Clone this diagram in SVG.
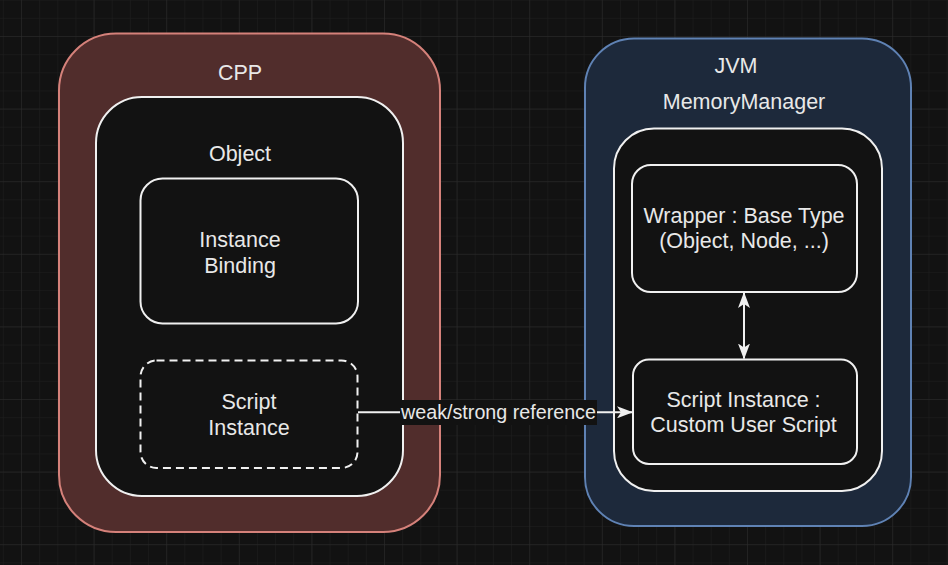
<svg xmlns="http://www.w3.org/2000/svg" width="948" height="565" viewBox="0 0 948 565">
<defs>
<pattern id="minor" x="21" y="36" width="18.15" height="18.15" patternUnits="userSpaceOnUse">
<path d="M0 0 H18.15 M0 0 V18.15" fill="none" stroke="#1f1f1f" stroke-width="1"/>
</pattern>
<pattern id="major" x="21" y="36" width="72.6" height="72.6" patternUnits="userSpaceOnUse">
<path d="M0 0 H72.6 M0 0 V72.6" fill="none" stroke="#2c2c2c" stroke-width="1"/>
</pattern>
<marker id="arr" viewBox="0 0 16 12" refX="15" refY="6" markerWidth="16" markerHeight="12" markerUnits="userSpaceOnUse" orient="auto-start-reverse">
<path d="M0 0 L16 6 L0 12 L4 6 Z" fill="#f0f0f0"/>
</marker>
</defs>
<style>
text{font-family:"Liberation Sans",Arial,sans-serif;font-size:21.5px;fill:#e8e8e8;text-anchor:middle}
.box{fill:#121212;stroke:#f0f0f0;stroke-width:2}
.dash{stroke-dasharray:8 5}
.edge{fill:none;stroke:#f0f0f0;stroke-width:2}
.lbl{font-size:19.7px}
</style>
<rect width="948" height="565" fill="#121212"/>
<rect width="948" height="565" fill="url(#minor)"/>
<rect width="948" height="565" fill="url(#major)"/>

<g id="cpp">
<rect x="59" y="33.5" width="381" height="498.5" rx="57" ry="57" fill="#512d2c" stroke="#d5817a" stroke-width="2"/>
<text x="240" y="79.5">CPP</text>
</g>
<g id="object">
<rect class="box" x="96" y="97" width="307" height="399" rx="46" ry="46"/>
<text x="240" y="161">Object</text>
</g>
<g id="instance-binding">
<rect class="box" x="140.5" y="178.5" width="217.5" height="145" rx="22" ry="22"/>
<text x="240" y="247">Instance</text>
<text x="240" y="272.5">Binding</text>
</g>
<g id="script-instance-cpp">
<rect class="box dash" x="140.5" y="360.5" width="217" height="107.5" rx="16" ry="16"/>
<text x="249" y="409">Script</text>
<text x="249" y="434.5">Instance</text>
</g>

<g id="jvm">
<rect x="585" y="38.5" width="326" height="487.5" rx="49" ry="49" fill="#1d293b" stroke="#5f82b4" stroke-width="2"/>
<text x="736" y="72.8">JVM</text>
<text x="744" y="109.3">MemoryManager</text>
</g>
<g id="memory-manager">
<rect class="box" x="614" y="128.5" width="268" height="362.5" rx="40" ry="40"/>
</g>
<g id="wrapper">
<rect class="box" x="632" y="165" width="225" height="127" rx="19" ry="19"/>
<text x="744" y="222.5">Wrapper : Base Type</text>
<text x="744" y="248">(Object, Node, ...)</text>
</g>
<g id="script-instance-jvm">
<rect class="box" x="633" y="359.5" width="224" height="104.5" rx="16" ry="16"/>
<text x="743.5" y="406.7">Script Instance :</text>
<text x="743.5" y="432">Custom User Script</text>
</g>

<g id="connectors">
<path class="edge" d="M358 412.3 H632" marker-end="url(#arr)"/>
<rect x="400" y="400" width="197" height="25" fill="#121212"/>
<text class="lbl" x="498.5" y="418.5">weak/strong reference</text>
<path class="edge" d="M744 293 V358.5" marker-start="url(#arr)" marker-end="url(#arr)"/>
</g>
</svg>
